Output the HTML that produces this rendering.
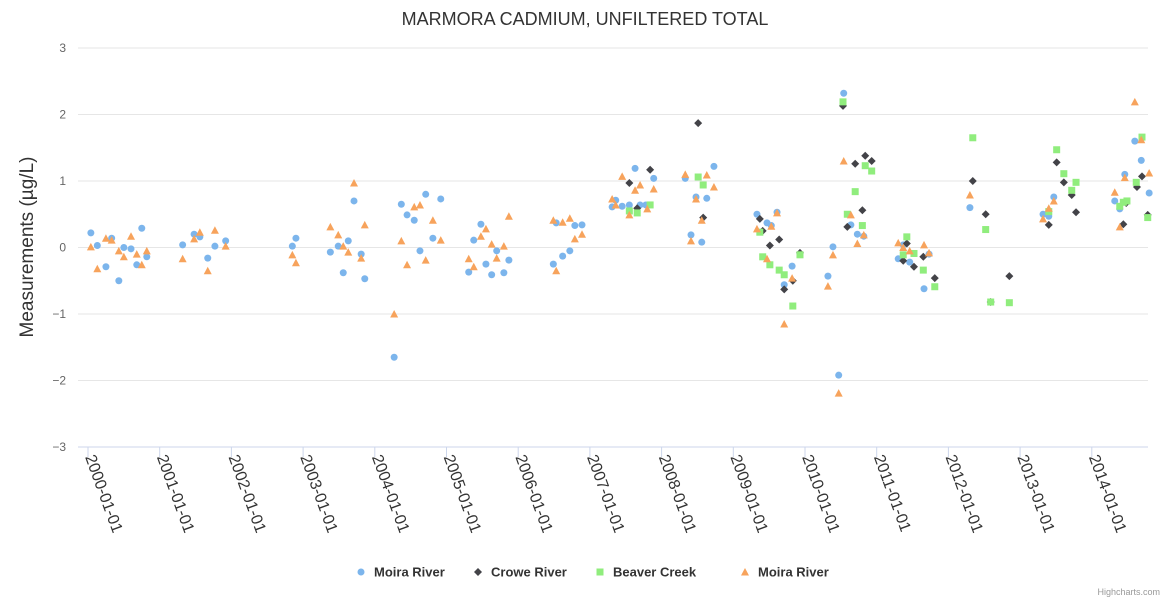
<!DOCTYPE html>
<html><head><meta charset="utf-8"><style>
body{margin:0;background:#fff;}
svg{display:block;font-family:"Liberation Sans",sans-serif;}
</style></head><body>
<svg id="chart" width="1170" height="600">
<text x="585" y="25" text-anchor="middle" font-size="18" fill="#333">MARMORA CADMIUM, UNFILTERED TOTAL</text>
<text transform="translate(33,247) rotate(-90)" text-anchor="middle" font-size="19" fill="#333">Measurements (µg/L)</text>
<g id="grid"></g><g id="xaxis"></g><g id="series"></g>
<g id="legend" font-size="13" font-weight="bold" fill="#333">
<g><circle cx="361" cy="572" r="3.5" fill="#7cb5ec"/><text x="374" y="576.5">Moira River</text></g>
<g><path d="M478 568 L482 572 L478 576 L474 572Z" fill="#434348"/><text x="491" y="576.5">Crowe River</text></g>
<g><rect x="596.5" y="568.5" width="7" height="7" fill="#90ed7d"/><text x="613" y="576.5">Beaver Creek</text></g>
<g><path d="M745 568 L749 575.5 L741 575.5Z" fill="#f7a35c"/><text x="758" y="576.5">Moira River</text></g>
</g>
<text x="1160" y="595" text-anchor="end" font-size="9" fill="#999">Highcharts.com</text>
</svg>
<script>
const yTicks=[-3,-2,-1,0,1,2,3];
const xTickYears=[2000,2001,2002,2003,2004,2005,2006,2007,2008,2009,2010,2011,2012,2013,2014];
const moira1X=[2000.04,2000.13,2000.25,2000.33,2000.43,2000.50,2000.60,2000.68,2000.75,2000.82,2001.32,2001.48,2001.56,2001.67,2001.77,2001.92,2002.85,2002.90,2003.38,2003.49,2003.56,2003.63,2003.71,2003.81,2003.86,2004.27,2004.37,2004.45,2004.55,2004.63,2004.71,2004.81,2004.92,2005.31,2005.38,2005.48,2005.55,2005.63,2005.70,2005.80,2005.87,2006.49,2006.53,2006.62,2006.72,2006.79,2006.89,2007.31,2007.36,2007.45,2007.55,2007.63,2007.70,2007.78,2007.89,2008.33,2008.41,2008.48,2008.56,2008.63,2008.73,2009.33,2009.47,2009.53,2009.61,2009.82,2009.71,2010.39,2010.32,2010.47,2010.54,2010.64,2010.73,2010.82,2011.30,2011.37,2011.46,2011.66,2011.73,2012.30,2013.32,2013.40,2013.47,2014.32,2014.39,2014.46,2014.60,2014.69,2014.80];
const moira1Y=[0.22,0.03,-0.29,0.14,-0.5,0,-0.02,-0.26,0.29,-0.14,0.04,0.2,0.16,-0.16,0.02,0.1,0.02,0.14,-0.07,0.02,-0.38,0.1,0.7,-0.1,-0.47,-1.65,0.65,0.49,0.41,-0.05,0.8,0.14,0.73,-0.37,0.11,0.35,-0.25,-0.41,-0.05,-0.38,-0.19,-0.25,0.37,-0.13,-0.05,0.33,0.34,0.61,0.71,0.62,0.64,1.19,0.64,0.64,1.04,1.04,0.19,0.76,0.08,0.74,1.22,0.5,0.37,0.33,0.53,-0.28,-0.56,0.01,-0.43,-1.92,2.32,0.34,0.2,0.17,-0.17,0.04,-0.22,-0.62,-0.1,0.6,0.5,0.47,0.76,0.7,0.58,1.1,1.6,1.31,0.82];
const croweX=[2007.55,2007.66,2007.84,2008.51,2008.58,2009.37,2009.41,2009.51,2009.64,2009.71,2009.83,2009.93,2010.53,2010.59,2010.70,2010.80,2010.84,2010.93,2011.37,2011.42,2011.52,2011.65,2011.81,2012.34,2012.52,2012.59,2012.85,2013.40,2013.51,2013.61,2013.72,2013.78,2014.44,2014.48,2014.63,2014.70,2014.78];
const croweY=[0.97,0.59,1.17,1.87,0.45,0.43,0.25,0.03,0.12,-0.63,-0.5,-0.08,2.13,0.31,1.26,0.56,1.38,1.3,-0.2,0.06,-0.29,-0.14,-0.46,1.0,0.5,-0.82,-0.43,0.34,1.28,0.98,0.79,0.53,0.35,0.67,0.91,1.07,0.49];
const beaverX=[2007.55,2007.66,2007.84,2008.51,2008.58,2009.37,2009.41,2009.51,2009.64,2009.71,2009.83,2009.93,2010.53,2010.59,2010.70,2010.80,2010.84,2010.93,2011.37,2011.42,2011.52,2011.65,2011.81,2012.34,2012.52,2012.59,2012.85,2013.40,2013.51,2013.61,2013.72,2013.78,2014.39,2014.44,2014.49,2014.62,2014.70,2014.78];
const beaverY=[0.55,0.52,0.64,1.06,0.94,0.23,-0.14,-0.26,-0.34,-0.41,-0.88,-0.11,2.19,0.5,0.84,0.33,1.23,1.15,-0.11,0.16,-0.09,-0.34,-0.59,1.65,0.27,-0.82,-0.83,0.54,1.47,1.11,0.86,0.98,0.62,0.68,0.7,0.98,1.66,0.45];
const moira2X=[2000.04,2000.13,2000.25,2000.33,2000.43,2000.50,2000.60,2000.68,2000.75,2000.82,2001.32,2001.48,2001.56,2001.67,2001.77,2001.92,2002.85,2002.90,2003.38,2003.49,2003.56,2003.63,2003.71,2003.81,2003.86,2004.27,2004.37,2004.45,2004.55,2004.63,2004.71,2004.81,2004.92,2005.31,2005.38,2005.48,2005.55,2005.63,2005.70,2005.80,2005.87,2006.49,2006.53,2006.62,2006.72,2006.79,2006.89,2007.31,2007.36,2007.45,2007.55,2007.63,2007.70,2007.80,2007.89,2008.33,2008.41,2008.48,2008.56,2008.63,2008.73,2009.33,2009.47,2009.53,2009.61,2009.71,2009.82,2010.39,2010.32,2010.47,2010.54,2010.64,2010.73,2010.82,2011.30,2011.37,2011.46,2011.66,2011.73,2012.30,2013.32,2013.40,2013.47,2014.32,2014.39,2014.46,2014.60,2014.69,2014.80];
const moira2Y=[0.01,-0.32,0.14,0.11,-0.05,-0.14,0.17,-0.1,-0.26,-0.05,-0.17,0.13,0.23,-0.35,0.26,0.02,-0.11,-0.23,0.31,0.19,0.02,-0.07,0.97,-0.16,0.34,-1.0,0.1,-0.26,0.61,0.64,-0.19,0.41,0.11,-0.17,-0.29,0.17,0.28,0.05,-0.16,0.02,0.47,0.41,-0.35,0.38,0.44,0.13,0.2,0.73,0.64,1.07,0.49,0.86,0.94,0.58,0.88,1.1,0.1,0.73,0.41,1.09,0.91,0.28,-0.17,0.32,0.52,-1.15,-0.46,-0.11,-0.58,-2.19,1.3,0.49,0.06,0.19,0.07,0,-0.05,0.04,-0.08,0.79,0.43,0.59,0.7,0.83,0.31,1.05,2.19,1.62,1.12];

const NS='http://www.w3.org/2000/svg';
const L=78,R=1148,T=48,B=447;
const xs=yr=>88+(yr-2000)*71.7;
const ys=v=>B-(v+3)/6*(B-T);
function mk(tag,at,parent){const e=document.createElementNS(NS,tag);for(const k in at)e.setAttribute(k,at[k]);parent.appendChild(e);return e;}
const grid=document.getElementById('grid'),xa=document.getElementById('xaxis'),se=document.getElementById('series');
yTicks.forEach(v=>{
  const ln=mk('line',{x1:L,x2:R,y1:ys(v),y2:ys(v),stroke:v===-3?'#ccd6eb':'#e6e6e6','stroke-width':1},grid);
  
  
  const t=mk('text',{x:66,y:ys(v)+4,'text-anchor':'end','font-size':12,fill:'#666'},grid);
  t.textContent=v<0?'\u2212'+Math.abs(v):String(v);
  
  
});
xTickYears.forEach(yr=>{
  const x=xs(yr);
  const tk=mk('line',{x1:x,x2:x,y1:B,y2:B+10,stroke:'#ccd6eb'},xa);
  
  
  const t=mk('text',{transform:`translate(${x-3},${B+10}) rotate(70)`,'font-size':16,fill:'#333'},xa);
  t.textContent=yr+'-01-01';
  
  
});
function draw(X,Y,shape,color,name){
  X.forEach((yr,i)=>{
    const cx=xs(yr),cy=ys(Y[i]);let e;
    if(shape==='c')e=mk('circle',{cx,cy,r:3.5,fill:color},se);
    else if(shape==='d')e=mk('path',{d:`M${cx} ${cy-4}L${cx+4} ${cy}L${cx} ${cy+4}L${cx-4} ${cy}Z`,fill:color},se);
    else if(shape==='s')e=mk('rect',{x:cx-3.5,y:cy-3.5,width:7,height:7,fill:color},se);
    else e=mk('path',{d:`M${cx} ${cy-4}L${cx+4} ${cy+3.5}L${cx-4} ${cy+3.5}Z`,fill:color},se);
    
    
  });
}
draw(moira1X,moira1Y,'c','#7cb5ec','moira-river-circle');
draw(croweX,croweY,'d','#434348','crowe-river');
draw(beaverX,beaverY,'s','#90ed7d','beaver-creek');
draw(moira2X,moira2Y,'t','#f7a35c','moira-river-triangle');
</script>
</body></html>
